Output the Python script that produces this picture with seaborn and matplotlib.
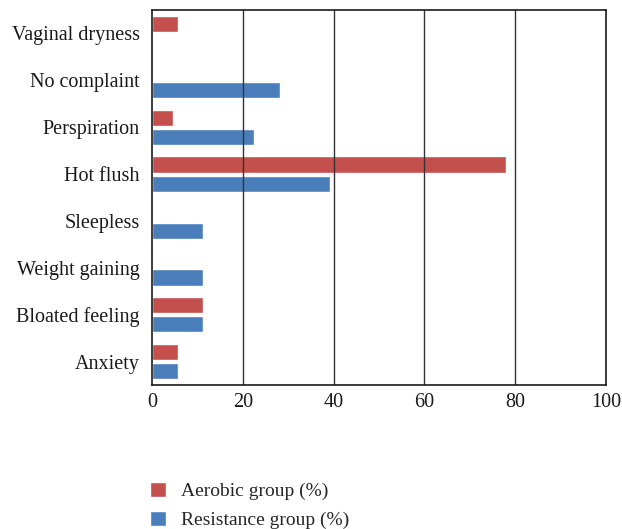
import pandas as pd
import matplotlib.pyplot as plt
import seaborn as sns

# data
symptoms = ['Vaginal dryness', 'No complaint', 'Perspiration', 'Hot flush',
            'Sleepless', 'Weight gaining', 'Bloated feeling', 'Anxiety']
aerobic = [5.8, 0, 4.5, 77.9, 0, 0, 11.3, 5.8]
resistance = [0, 28.1, 22.4, 39.1, 11.3, 11.3, 11.3, 5.8]
groups = ['Aerobic group (%)', 'Resistance group (%)']
colors = ['#C4504D', '#4A7EBB']

df = pd.DataFrame({
    'Symptom': symptoms * 2,
    'Value': aerobic + resistance,
    'Group': [groups[0]] * len(symptoms) + [groups[1]] * len(symptoms),
})

sns.set_style('white')
plt.rcParams['font.family'] = ['Liberation Serif', 'DejaVu Serif']

fig = plt.figure(figsize=(6.22, 5.29), dpi=100)
ax = fig.add_axes([0.2445, 0.2722, 0.7298, 0.7088])

sns.barplot(data=df, x='Value', y='Symptom', hue='Group', order=symptoms,
            hue_order=groups, palette=colors, orient='h', width=0.82,
            gap=0.16, saturation=1, ax=ax, legend=True)

ax.set_xlim(0, 100)
ax.set_ylim(7.5, -0.5)
ax.set_xticks([0, 20, 40, 60, 80, 100])
# grid lines sit on top of the bars in the reference
for xv in [20, 40, 60, 80]:
    ax.axvline(xv, color='#333333', lw=1, zorder=5)
ax.set_xlabel('')
ax.set_ylabel('')
ax.tick_params(axis='both', length=0, labelsize=14.5, colors='#1a1a1a')
ax.tick_params(axis='x', pad=6)
ax.tick_params(axis='y', pad=9)
for s in ax.spines.values():
    s.set_visible(True)
    s.set_color('#1a1a1a')
    s.set_linewidth(1.2)
    s.set_zorder(6)

handles, labels = ax.get_legend_handles_labels()
ax.legend_.remove()
fig.legend(handles, labels, loc='upper left', bbox_to_anchor=(0.229, 0.104),
           frameon=False, fontsize=14, handlelength=0.8, handleheight=0.8,
           handletextpad=0.8, labelspacing=0.55, borderaxespad=0)

fig.savefig('out.png', dpi=100)
